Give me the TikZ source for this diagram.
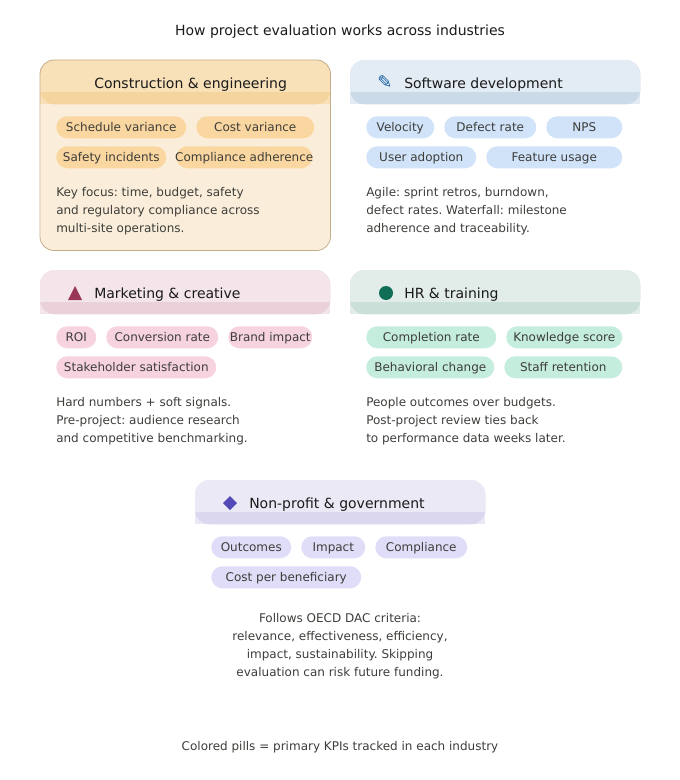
\documentclass[tikz,border=0pt]{standalone}
\usepackage{fontspec}
\setmainfont{DejaVu Sans}
\definecolor{inkhead}{HTML}{1A1A1A}
\definecolor{inkbody}{HTML}{3D3D3A}
\definecolor{amberbg}{HTML}{FAEEDA}
\definecolor{amberhead}{HTML}{F8E0B8}
\definecolor{amberband}{HTML}{F6D49E}
\definecolor{amberpill}{HTML}{FAD7A0}
\definecolor{amberline}{HTML}{C4AC88}
\definecolor{bluehead}{HTML}{E3EBF4}
\definecolor{blueband}{HTML}{CBDAE9}
\definecolor{bluepill}{HTML}{D0E3F8}
\definecolor{blueicon}{HTML}{185FA5}
\definecolor{pinkhead}{HTML}{F4E5EA}
\definecolor{pinkband}{HTML}{E9D0D9}
\definecolor{pinkpill}{HTML}{F6D3DF}
\definecolor{pinkicon}{HTML}{993556}
\definecolor{greenhead}{HTML}{E2ECE8}
\definecolor{greenband}{HTML}{C9DFD8}
\definecolor{greenpill}{HTML}{C5EDDD}
\definecolor{greenicon}{HTML}{0F6E56}
\definecolor{violethead}{HTML}{EAE9F5}
\definecolor{violetband}{HTML}{DAD7EE}
\definecolor{violetpill}{HTML}{E0DDF8}
\definecolor{violeticon}{HTML}{534AB7}
\tikzset{
	headbox/.style={inner sep=0pt, anchor=north west, minimum width=217.5pt, minimum height=33pt, rounded corners=10.5pt},
	headtext/.style={anchor=base west, font=\fontsize{10.5}{12}\selectfont, text=inkhead, inner sep=0pt},
	pill/.style={anchor=north west, inner sep=0pt, minimum height=16.5pt, text height=7.5pt, text depth=1.5pt, rounded corners=8.25pt, font=\fontsize{9}{11}\selectfont, text=inkbody},
	bodytext/.style={font=\fontsize{9}{13.5}\selectfont, text=inkbody, inner sep=0pt, align=left, anchor=north west},
	plaintext/.style={font=\fontsize{9}{11}\selectfont, text=inkbody, inner sep=0pt, anchor=base}
}
% header of a card: name, x, y, light colour, band colour
\newcommand{\cardhead}[5]{
	\fill [#4] (#2,#3+32) rectangle (#2+290,#3+44);
	\node [headbox, fill=#5] (#1) at (#2,#3) {};
	\fill [#4] (#2,#3+32) -- (#2,#3+14) arc [start angle=180, end angle=90, radius=10.5pt] -- (#2+276,#3) arc [start angle=90, end angle=0, radius=10.5pt] -- (#2+290,#3+32) -- cycle;
}
\begin{document}
\frenchspacing
\begin{tikzpicture}[x=0.75pt,y=-0.75pt]
	\useasboundingbox (0,0) rectangle (680,780);
	%title
	\node [font=\fontsize{10.5}{12}\selectfont, text=inkhead, inner sep=0pt, anchor=base] (title) at (340,36) {How project evaluation works across industries};

	%construction card
	\node [fill=amberbg, rounded corners=10.5pt, inner sep=0pt, anchor=north west, minimum width=217.5pt, minimum height=142.5pt] (card1) at (40,60) {};
	\cardhead{head1}{40}{60}{amberhead}{amberband}
	\draw [amberline, line width=0.6pt, rounded corners=10.5pt] (card1.north west) rectangle (card1.south east);
	\node [headtext] (name1) at (94,88.5) {Construction \& engineering};
	\node [pill, fill=amberpill, minimum width=97.5pt] (p11) at (56,116) {Schedule variance};
	\node [pill, fill=amberpill, minimum width=88.5pt] (p12) at (196,116) {Cost variance};
	\node [pill, fill=amberpill, minimum width=82.5pt] (p13) at (56,146) {Safety incidents};
	\node [pill, fill=amberpill, minimum width=102pt] (p14) at (176,146) {\makebox[0pt]{Compliance adherence}};
	\node [bodytext] (body1) at (56,187) {Key focus: time, budget, safety\\and regulatory compliance across\\multi-site operations.};

	%software card
	\cardhead{head2}{350}{60}{bluehead}{blueband}
	\node [text=blueicon, font=\fontsize{13.5}{14}\selectfont, inner sep=0pt] (icon2) at (385,82) {✎};
	\node [headtext] (name2) at (404,88.5) {Software development};
	\node [pill, fill=bluepill, minimum width=51pt] (p21) at (366,116) {Velocity};
	\node [pill, fill=bluepill, minimum width=69pt] (p22) at (444,116) {Defect rate};
	\node [pill, fill=bluepill, minimum width=57pt] (p23) at (546,116) {NPS};
	\node [pill, fill=bluepill, minimum width=82.5pt] (p24) at (366,146) {User adoption};
	\node [pill, fill=bluepill, minimum width=102pt] (p25) at (486,146) {Feature usage};
	\node [bodytext] (body2) at (366,187) {Agile: sprint retros, burndown,\\defect rates. Waterfall: milestone\\adherence and traceability.};

	%marketing card
	\cardhead{head3}{40}{270}{pinkhead}{pinkband}
	\fill [pinkicon] (75,286) -- (82,300) -- (68,300) -- cycle;
	\node [headtext] (name3) at (94,298) {Marketing \& creative};
	\node [pill, fill=pinkpill, minimum width=30pt] (p31) at (56,326) {ROI};
	\node [pill, fill=pinkpill, minimum width=84pt] (p32) at (106,326) {Conversion rate};
	\node [pill, fill=pinkpill, minimum width=63pt] (p33) at (228,326) {Brand impact};
	\node [pill, fill=pinkpill, minimum width=120pt] (p34) at (56,356) {Stakeholder satisfaction};
	\node [bodytext] (body3) at (56,397) {Hard numbers + soft signals.\\Pre-project: audience research\\and competitive benchmarking.};

	%hr card
	\cardhead{head4}{350}{270}{greenhead}{greenband}
	\fill [greenicon] (386,293) circle [radius=5.25pt];
	\node [headtext] (name4) at (404,298) {HR \& training};
	\node [pill, fill=greenpill, minimum width=97.5pt] (p41) at (366,326) {Completion rate};
	\node [pill, fill=greenpill, minimum width=87pt] (p42) at (506,326) {Knowledge score};
	\node [pill, fill=greenpill, minimum width=96pt] (p43) at (366,356) {Behavioral change};
	\node [pill, fill=greenpill, minimum width=88.5pt] (p44) at (504,356) {Staff retention};
	\node [bodytext] (body4) at (366,397) {People outcomes over budgets.\\Post-project review ties back\\to performance data weeks later.};

	%non-profit card
	\cardhead{head5}{195}{480}{violethead}{violetband}
	\fill [violeticon] (230,496) -- (237,503) -- (230,510) -- (223,503) -- cycle;
	\node [headtext] (name5) at (249,508) {Non-profit \& government};
	\node [pill, fill=violetpill, minimum width=60pt] (p51) at (211,536) {Outcomes};
	\node [pill, fill=violetpill, minimum width=48pt] (p52) at (301,536) {Impact};
	\node [pill, fill=violetpill, minimum width=69pt] (p53) at (375,536) {Compliance};
	\node [pill, fill=violetpill, minimum width=112.5pt] (p54) at (211,566) {Cost per beneficiary};
	\node [bodytext, align=center, anchor=north] (body5) at (340,613) {Follows OECD DAC criteria:\\relevance, effectiveness, efficiency,\\impact, sustainability. Skipping\\evaluation can risk future funding.};

	%legend
	\node [plaintext] (legend) at (340,750) {Colored pills = primary KPIs tracked in each industry};
\end{tikzpicture}
\end{document}
